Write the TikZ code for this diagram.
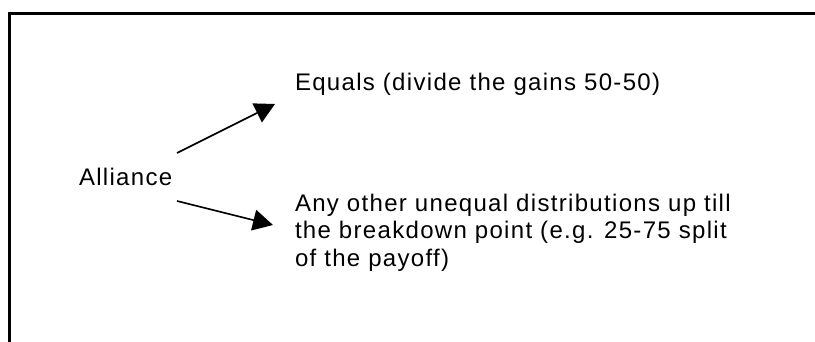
\documentclass[tikz,border=0pt]{standalone}
\usepackage{fontspec}
\setmainfont{Liberation Sans}[LetterSpace=5.5]
\usetikzlibrary{arrows.meta}
\tikzset{
  lbl/.style={inner sep=0pt, outer sep=0pt, anchor=base west, font=\fontsize{24}{27.5}\selectfont},
  conn/.style={line width=1.6pt, -{Triangle[length=20pt,width=21pt]}},
  frame/.style={line width=3pt}
}
\begin{document}
\begin{tikzpicture}[x=1pt,y=-1pt]
\useasboundingbox (0,0) rectangle (815,342);
\clip (0,0) rectangle (815,342);
\draw[frame] (9.5,360) -- (9.5,13.5) -- (840,13.5);
\node[lbl] (alliance) at (79,186) {Alliance};
\node[lbl] (equals) at (295,91) {Equals (divide the gains 50-50)};
\node[lbl, align=left] (other) at (295,266) {Any other unequal distributions up till\\the breakdown point (e.g. 25-75 split\\of the payoff)};
\coordinate (s1) at (177,153);
\coordinate (t1) at (275,104);
\coordinate (s2) at (177,201);
\coordinate (t2) at (273,225);
\draw[conn] (s1) -- (t1);
\draw[conn] (s2) -- (t2);
\end{tikzpicture}
\end{document}
